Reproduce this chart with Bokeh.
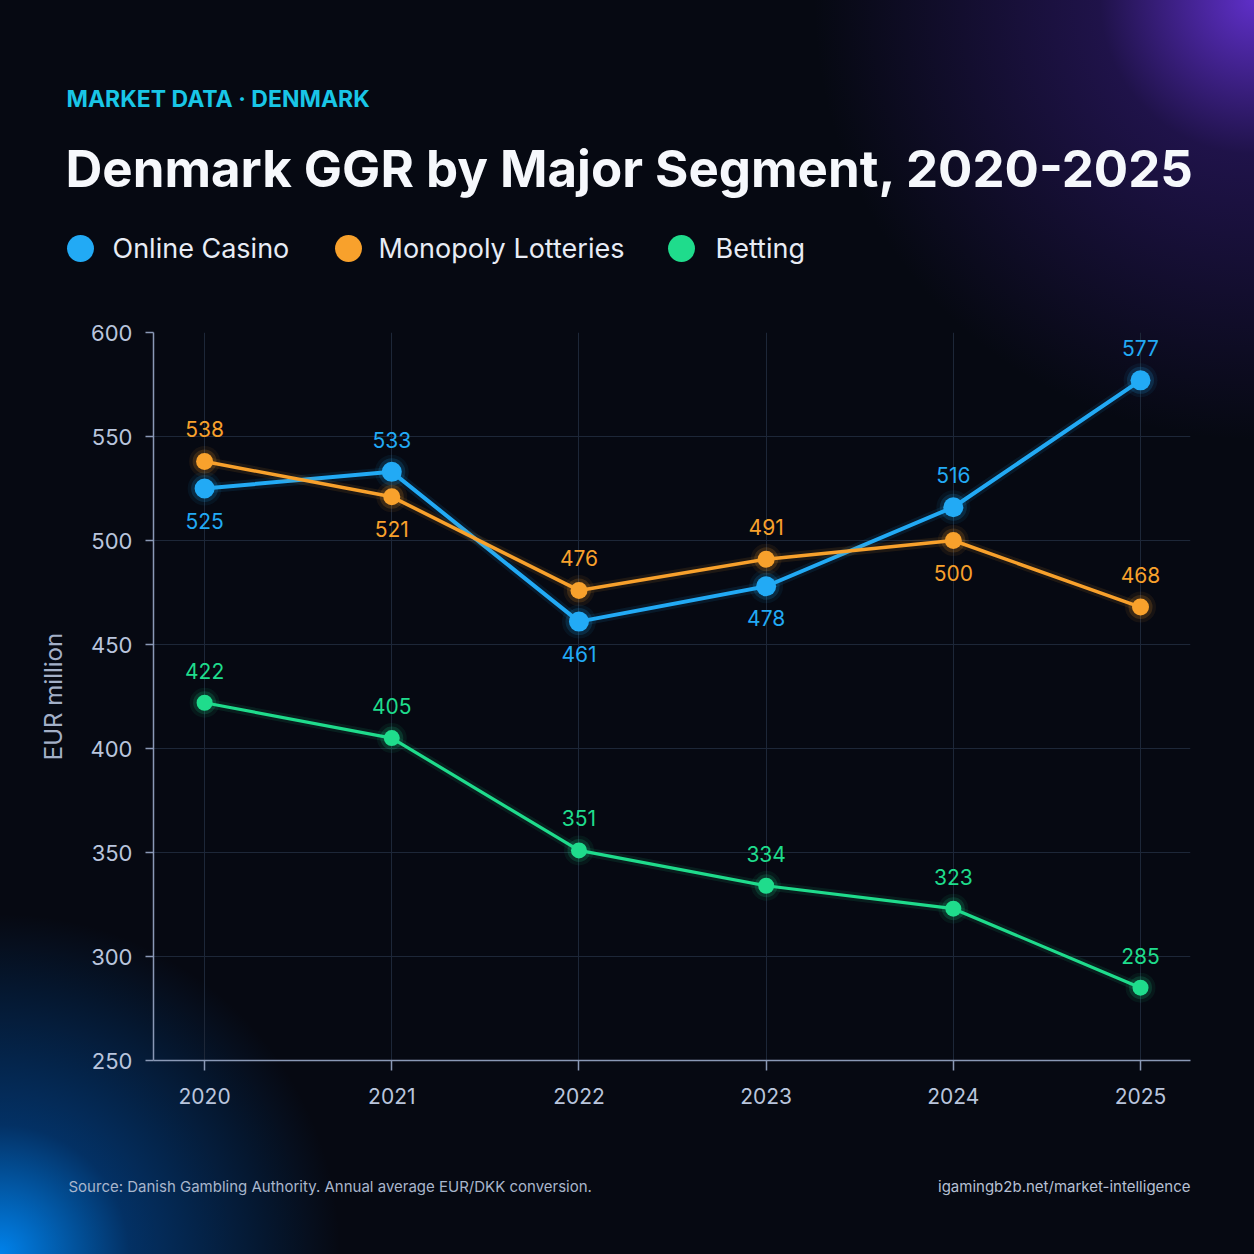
from bokeh.plotting import figure
from bokeh.models import Range1d, FixedTicker, ColumnDataSource
from bokeh.core.properties import value
from bokeh.embed import file_html
from bokeh.resources import INLINE

# ---------------- data ----------------
years = [2020, 2021, 2022, 2023, 2024, 2025]
year_labels = ["2020", "2021", "2022", "2023", "2024", "2025"]
online_casino = [525, 533, 461, 478, 516, 577]
monopoly_lotteries = [538, 521, 476, 491, 500, 468]
betting = [422, 405, 351, 334, 323, 285]
y_ticks = [250, 300, 350, 400, 450, 500, 550, 600]
series_names = ["Online Casino", "Monopoly Lotteries", "Betting"]

# label placement (+1 above the point, -1 below)
casino_side = [-1, 1, -1, -1, 1, 1]
lottery_side = [1, -1, 1, 1, -1, 1]
betting_side = [1, 1, 1, 1, 1, 1]

# ---------------- style ----------------
BG = "#060912"
C_BLUE = "#22aaf5"
C_ORANGE = "#f8a12c"
C_GREEN = "#1fdc8c"
COLORS = [C_BLUE, C_ORANGE, C_GREEN]
FONT = "Inter"
W = 1254
H_HEAD, H_MAIN, H_FOOT = 300, 840, 114


def bg_style(top):
    """Page-wide glows, expressed relative to a figure whose top is at `top`."""
    return {
        "background": (
            "radial-gradient(circle 440px at %dpx %dpx, rgba(102,50,215,0.92) 0%%, "
            "rgba(66,32,150,0.42) 35%%, rgba(6,9,18,0) 100%%), "
            "radial-gradient(circle 340px at 0px %dpx, rgba(0,130,235,1.0) 0%%, "
            "rgba(0,92,190,0.48) 38%%, rgba(6,9,18,0) 100%%), %s"
            % (W, -top, 1254 - top, BG)
        )
    }


def blank_fig(h, top):
    f = figure(width=W, height=h, output_backend="svg", toolbar_location=None,
               x_range=Range1d(0, W), y_range=Range1d(h, 0),
               x_axis_type=None, y_axis_type=None, min_border=0)
    f.grid.visible = False
    f.background_fill_color = None
    f.border_fill_color = None
    f.outline_line_color = None
    f.styles = bg_style(top)
    return f


# ---------------- header ----------------
head = blank_fig(H_HEAD, 0)
head.text(x=[66], y=[98], text=["MARKET DATA · DENMARK"], text_font=value(FONT),
          text_font_size="23px", text_font_style="bold", text_color="#19c6e6",
          text_baseline="middle")
head.text(x=[65], y=[168], text=["Denmark GGR by Major Segment, 2020-2025"],
          text_font=value(FONT), text_font_size="51px", text_font_style="bold",
          text_color="#f6f8fc", text_baseline="middle")
legend_dot_x = [80, 348, 681]
legend_text_x = [112, 378, 715]
head.scatter(x=legend_dot_x, y=[248] * 3, size=27, fill_color=COLORS, line_color=None)
head.text(x=legend_text_x, y=[248] * 3, text=series_names, text_font=value(FONT),
          text_font_size="27px", text_color="#e8ecf5", text_baseline="middle")

# ---------------- main chart ----------------
p = figure(width=W, height=H_MAIN, output_backend="svg", toolbar_location=None,
           x_range=Range1d(2019.727, 2025.267), y_range=Range1d(250, 600),
           min_border_left=153, min_border_right=64, min_border_top=32,
           min_border_bottom=80)
p.background_fill_color = None
p.border_fill_color = None
p.outline_line_color = None
p.styles = bg_style(H_HEAD)

for ax in (p.xaxis[0], p.yaxis[0]):
    ax.axis_line_color = "#8a99b6"
    ax.axis_line_width = 1.5
    ax.major_tick_line_color = "#8a99b6"
    ax.major_tick_line_width = 1.5
    ax.major_tick_in = 0
    ax.minor_tick_line_color = None
    ax.major_label_text_font = FONT
    ax.major_label_text_color = "#b9c5dd"

p.xaxis.ticker = FixedTicker(ticks=years)
p.xaxis.major_label_overrides = {y: l for y, l in zip(years, year_labels)}
p.xaxis.major_label_text_font_size = "21px"
p.xaxis.major_tick_out = 10
p.xaxis.major_label_standoff = 17

p.yaxis.ticker = FixedTicker(ticks=y_ticks)
p.yaxis.major_label_text_font_size = "22px"
p.yaxis.major_tick_out = 8
p.yaxis.major_label_standoff = 13
p.yaxis.axis_label = "EUR million"
p.yaxis.axis_label_text_font = FONT
p.yaxis.axis_label_text_font_size = "24px"
p.yaxis.axis_label_text_font_style = "normal"
p.yaxis.axis_label_text_color = "#a3b0c8"
p.yaxis.axis_label_standoff = 20

p.xgrid.ticker = FixedTicker(ticks=years)
p.ygrid.ticker = FixedTicker(ticks=y_ticks)
for g in (p.xgrid[0], p.ygrid[0]):
    g.grid_line_color = "#1d2738"
    g.grid_line_width = 1

specs = [
    (online_casino, casino_side, C_BLUE, 4, 20),
    (monopoly_lotteries, lottery_side, C_ORANGE, 3.5, 17),
    (betting, betting_side, C_GREEN, 3.2, 16),
]
for vals, side, col, lw, ms in specs:
    p.line(years, vals, line_color=col, line_width=lw + 6, line_alpha=0.10)
    p.line(years, vals, line_color=col, line_width=lw)
    p.scatter(years, vals, size=ms + 14, fill_color=col, fill_alpha=0.07, line_color=None)
    p.scatter(years, vals, size=ms + 7, fill_color=col, fill_alpha=0.16, line_color=None)
    p.scatter(years, vals, size=ms, fill_color=col, line_color=None)
    src = ColumnDataSource(dict(x=years, y=vals, t=[str(v) for v in vals],
                                off=[-32 * s for s in side]))
    p.text(x="x", y="y", text="t", y_offset="off", source=src,
           text_font=value(FONT), text_font_size="21px", text_color=col,
           text_align="center", text_baseline="middle")

try:
    from bokeh.models import GlobalInlineStyleSheet
    p.stylesheets = [GlobalInlineStyleSheet(css="html,body{background:%s;}" % BG)]
except Exception:
    pass

# ---------------- footer ----------------
foot = blank_fig(H_FOOT, H_HEAD + H_MAIN)
foot.text(x=[68], y=[46], text=["Source: Danish Gambling Authority. Annual average EUR/DKK conversion."],
          text_font=value(FONT), text_font_size="15px", text_color="#a9b6cc",
          text_baseline="middle")
foot.text(x=[1190], y=[46], text=["igamingb2b.net/market-intelligence"],
          text_font=value(FONT), text_font_size="15px", text_color="#b6c0d4",
          text_align="right", text_baseline="middle")

open("out.html", "w").write(file_html([head, p, foot], INLINE))
